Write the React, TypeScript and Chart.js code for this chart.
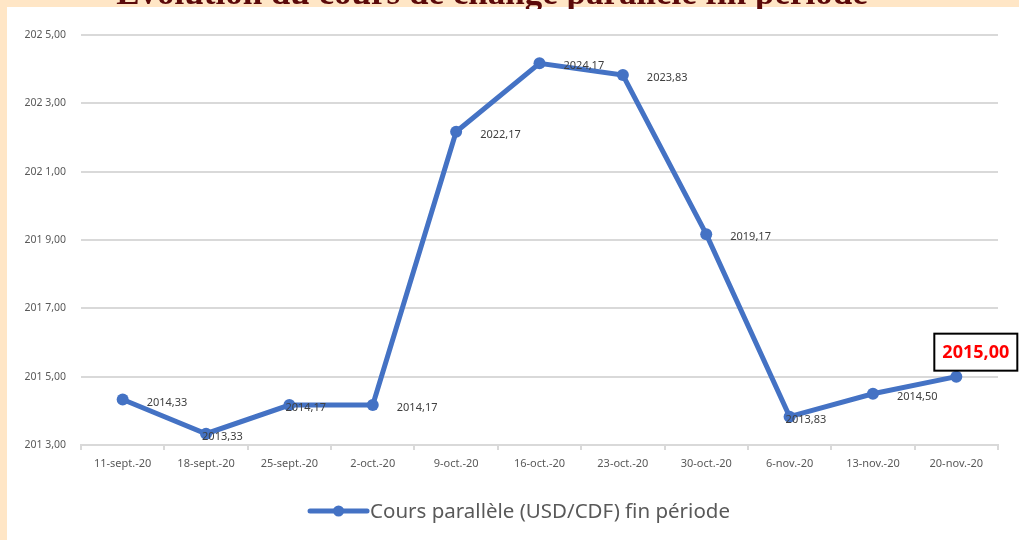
import React, { useEffect, useRef } from "react";
import { Chart, registerables } from "chart.js";

Chart.register(...registerables);

const categories = [
  "11-sept.-20",
  "18-sept.-20",
  "25-sept.-20",
  "2-oct.-20",
  "9-oct.-20",
  "16-oct.-20",
  "23-oct.-20",
  "30-oct.-20",
  "6-nov.-20",
  "13-nov.-20",
  "20-nov.-20",
];

const values = [2014.33, 2013.33, 2014.17, 2014.17, 2022.17, 2024.17, 2023.83, 2019.17, 2013.83, 2014.5, 2015.0];

const yTickLabels = ["201 3,00", "201 5,00", "201 7,00", "201 9,00", "202 1,00", "202 3,00", "202 5,00"];

// label placement per point: 'right' | 'below' | 'box'
const labelPlacement = ["right", "below", "below", "right", "right", "right", "right", "right", "below", "right", "box"];

const seriesName = "Cours parallèle (USD/CDF) fin période";
const titleText = "Évolution du cours de change parallèle fin période";

const LINE_COLOR = "#4472C4";
const FONT = "'Noto Sans', 'Open Sans', sans-serif";

const fmt = (v: number) => v.toFixed(2).replace(".", ",");

const labelsPlugin = {
  id: "pointLabels",
  afterDatasetsDraw(chart: any) {
    const ctx = chart.ctx;
    const meta = chart.getDatasetMeta(0);
    ctx.save();
    meta.data.forEach((pt: any, i: number) => {
      const text = fmt(values[i]);
      const place = labelPlacement[i];
      if (place === "box") {
        const cx = pt.x + 19.5;
        const cy = pt.y - 24.5;
        const w = 83;
        const h = 37;
        ctx.fillStyle = "#ffffff";
        ctx.fillRect(cx - w / 2, cy - h / 2, w, h);
        ctx.strokeStyle = "#000000";
        ctx.lineWidth = 2;
        ctx.strokeRect(cx - w / 2, cy - h / 2, w, h);
        ctx.fillStyle = "#FF0000";
        ctx.font = `bold 18px ${FONT}`;
        ctx.textAlign = "center";
        ctx.textBaseline = "middle";
        ctx.fillText(text, cx, cy + 1);
      } else {
        ctx.fillStyle = "#404040";
        ctx.font = `11px ${FONT}`;
        ctx.textAlign = "left";
        ctx.textBaseline = "middle";
        const dx = place === "right" ? 24 : -4;
        ctx.fillText(text, pt.x + dx, pt.y + 3);
      }
    });
    ctx.restore();
  },
};

const legendPlugin = {
  id: "customLegend",
  afterDraw(chart: any) {
    const ctx = chart.ctx;
    ctx.save();
    ctx.font = `20.5px ${FONT}`;
    const tw = ctx.measureText(seriesName).width;
    const lineW = 57;
    const gap = 3;
    const total = lineW + gap + tw;
    const cx = 513;
    const y = 504;
    const x0 = cx - total / 2;
    ctx.strokeStyle = LINE_COLOR;
    ctx.lineWidth = 5;
    ctx.lineCap = "round";
    ctx.beginPath();
    ctx.moveTo(x0, y);
    ctx.lineTo(x0 + lineW, y);
    ctx.stroke();
    ctx.fillStyle = LINE_COLOR;
    ctx.beginPath();
    ctx.arc(x0 + lineW / 2, y, 5.5, 0, Math.PI * 2);
    ctx.fill();
    ctx.fillStyle = "#595959";
    ctx.textAlign = "left";
    ctx.textBaseline = "middle";
    ctx.fillText(seriesName, x0 + lineW + gap, y + 1);
    ctx.restore();
  },
};

export default function App() {
  const canvasRef = useRef<HTMLCanvasElement | null>(null);

  useEffect(() => {
    if (!canvasRef.current) return;
    const chart = new Chart(canvasRef.current, {
      type: "line",
      data: {
        labels: categories,
        datasets: [
          {
            label: seriesName,
            data: values,
            borderColor: LINE_COLOR,
            backgroundColor: LINE_COLOR,
            borderWidth: 5,
            pointRadius: 6,
            pointHoverRadius: 6,
            pointBackgroundColor: LINE_COLOR,
            pointBorderColor: LINE_COLOR,
            pointBorderWidth: 0,
            tension: 0,
          },
        ],
      },
      options: {
        responsive: false,
        animation: false,
        layout: { padding: { top: 28, right: 21, left: 0, bottom: 0 } },
        plugins: {
          legend: { display: false },
          tooltip: { enabled: false },
          title: { display: false },
        },
        scales: {
          x: {
            offset: true,
            grid: {
              display: true,
              offset: true,
              drawOnChartArea: false,
              drawTicks: true,
              tickLength: 5,
              color: "#d9d9d9",
              lineWidth: 2,
            },
            border: { display: true, color: "#d9d9d9", width: 2 },
            ticks: {
              color: "#595959",
              font: { family: FONT, size: 11 },
              padding: 7,
              maxRotation: 0,
              autoSkip: false,
            },
            afterFit: (s: any) => {
              s.height = 95;
            },
          },
          y: {
            min: 2013,
            max: 2025,
            ticks: {
              stepSize: 2,
              color: "#595959",
              font: { family: FONT, size: 10.5 },
              padding: 15,
              callback: (_v: any, i: number) => yTickLabels[i],
            },
            grid: {
              color: "#d9d9d9",
              lineWidth: 2,
              drawTicks: false,
            },
            border: { display: false },
            afterFit: (s: any) => {
              s.width = 74;
            },
          },
        },
      },
      plugins: [labelsPlugin, legendPlugin],
    });
    return () => chart.destroy();
  }, []);

  return (
    <div
      style={{
        position: "fixed",
        left: 0,
        top: 0,
        width: 1019,
        height: 540,
        background: "#FFE6C6",
        overflow: "hidden",
      }}
    >
      <div
        style={{
          position: "absolute",
          left: 7,
          top: 7,
          width: 1012,
          height: 533,
          background: "#ffffff",
        }}
      >
        <canvas ref={canvasRef} width={1012} height={533} style={{ display: "block" }} />
      </div>
      <div
        style={{
          position: "absolute",
          left: 0,
          top: 0,
          width: 984,
          height: 9,
          overflow: "hidden",
        }}
      >
        <div
          style={{
            position: "absolute",
            left: 0,
            top: -25,
            width: 984,
            textAlign: "center",
            fontFamily: "'Liberation Serif', serif",
            fontWeight: "bold",
            fontSize: 35,
            lineHeight: "35px",
            color: "#5C0A0A",
            whiteSpace: "nowrap",
          }}
        >
          {titleText}
        </div>
      </div>
    </div>
  );
}
